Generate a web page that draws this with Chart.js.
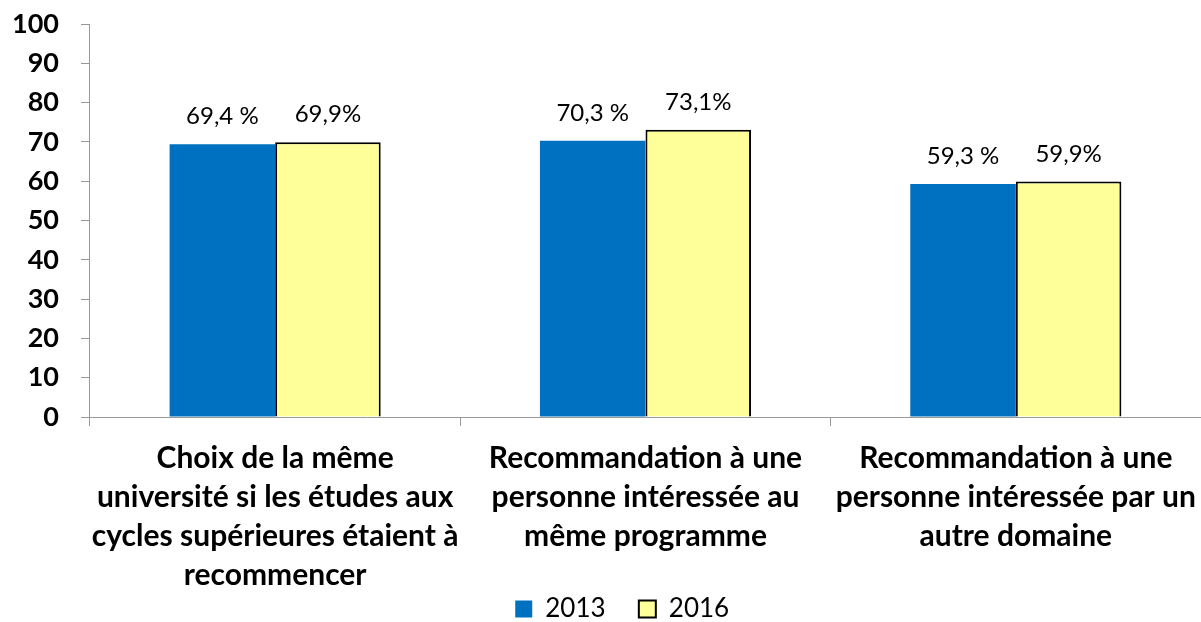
<!DOCTYPE html>
<html>
<head>
<meta charset="utf-8">
<script src="https://cdn.jsdelivr.net/npm/chart.js@4"></script>
<style>
  html, body { margin: 0; padding: 0; background: #fff; }
  #wrap { width: 1201px; height: 622px; }
</style>
</head>
<body>
<div id="wrap"><canvas id="chart" width="1201" height="622"></canvas></div>
<script>
const categories = [
    ['Choix de la même', 'université si les études aux', 'cycles supérieures étaient à', 'recommencer'],
    ['Recommandation à une', 'personne intéressée au', 'même programme'],
    ['Recommandation à une', 'personne intéressée par un', 'autre domaine']
];
const values2013 = [69.4, 70.3, 59.3];
const values2016 = [69.9, 73.1, 59.9];
const labels2013 = ['69,4 %', '70,3 %', '59,3 %'];
const labels2016 = ['69,9%', '73,1%', '59,9%'];
const yTicks = [0, 10, 20, 30, 40, 50, 60, 70, 80, 90, 100];

const valueLabels = {
    id: 'valueLabels',
    afterDatasetsDraw(chart) {
        const ctx = chart.ctx;
        const texts = [labels2013, labels2016];
        ctx.save();
        ctx.font = '24px Lato';
        ctx.fillStyle = '#000';
        ctx.textAlign = 'center';
        ctx.textBaseline = 'alphabetic';
        chart.data.datasets.forEach((ds, i) => {
            chart.getDatasetMeta(i).data.forEach((bar, j) => {
                ctx.fillText(texts[i][j], bar.x, bar.y - 20);
            });
        });
        ctx.restore();
    }
};

const config = {
    type: 'bar',
    data: {
        labels: categories,
        datasets: [
            {
                label: '2013',
                data: values2013,
                backgroundColor: '#0070C0',
                borderColor: '#0070C0',
                borderWidth: 0
            },
            {
                label: '2016',
                data: values2016,
                backgroundColor: '#FFFF99',
                borderColor: '#000',
                borderWidth: 2
            }
        ]
    },
    options: {
        responsive: false,
        animation: false,
        layout: { padding: { top: 24, left: -10, right: -3, bottom: -10 } },
        datasets: { bar: { categoryPercentage: 0.57, barPercentage: 1 } },
        plugins: {
            legend: {
                position: 'bottom',
                fullSize: false,
                labels: {
                    color: '#000',
                    font: { family: 'Lato', size: 26 },
                    boxWidth: 17,
                    boxHeight: 17,
                    padding: 0,
                    generateLabels(chart) {
                        // spacing after each entry (last one longer, moves the row a bit left)
                        const items = Chart.defaults.plugins.legend.labels.generateLabels(chart);
                        items[0].text = items[0].text + '     ';
                        items[1].text = items[1].text + '       ';
                        return items;
                    }
                }
            },
            tooltip: { enabled: false },
            title: { display: false }
        },
        scales: {
            x: {
                afterFit(scale) {
                    scale.height = 179;
                    scale.paddingLeft = 0;
                    scale.paddingRight = 0;
                },
                grid: { offset: true, drawOnChartArea: false, tickLength: 9, color: '#999' },
                border: { color: '#999' },
                ticks: {
                    color: '#000',
                    padding: 13,
                    maxRotation: 0,
                    autoSkip: false,
                    font: { family: 'Lato', size: 30, weight: 'bold', lineHeight: 1.3 }
                }
            },
            y: {
                min: 0,
                max: 100,
                afterBuildTicks(scale) { scale.ticks = yTicks.map(v => ({ value: v })); },
                afterFit(scale) {
                    scale.paddingTop = 0;
                    scale.paddingBottom = 0;
                },
                grid: { drawOnChartArea: false, tickLength: 9, color: '#999' },
                border: { color: '#999' },
                ticks: {
                    color: '#000',
                    padding: 22,
                    font: { family: 'Lato', size: 27, weight: 'bold' }
                }
            }
        }
    },
    plugins: [valueLabels]
};

const chart = new Chart(document.getElementById('chart'), config);
</script>
</body>
</html>
